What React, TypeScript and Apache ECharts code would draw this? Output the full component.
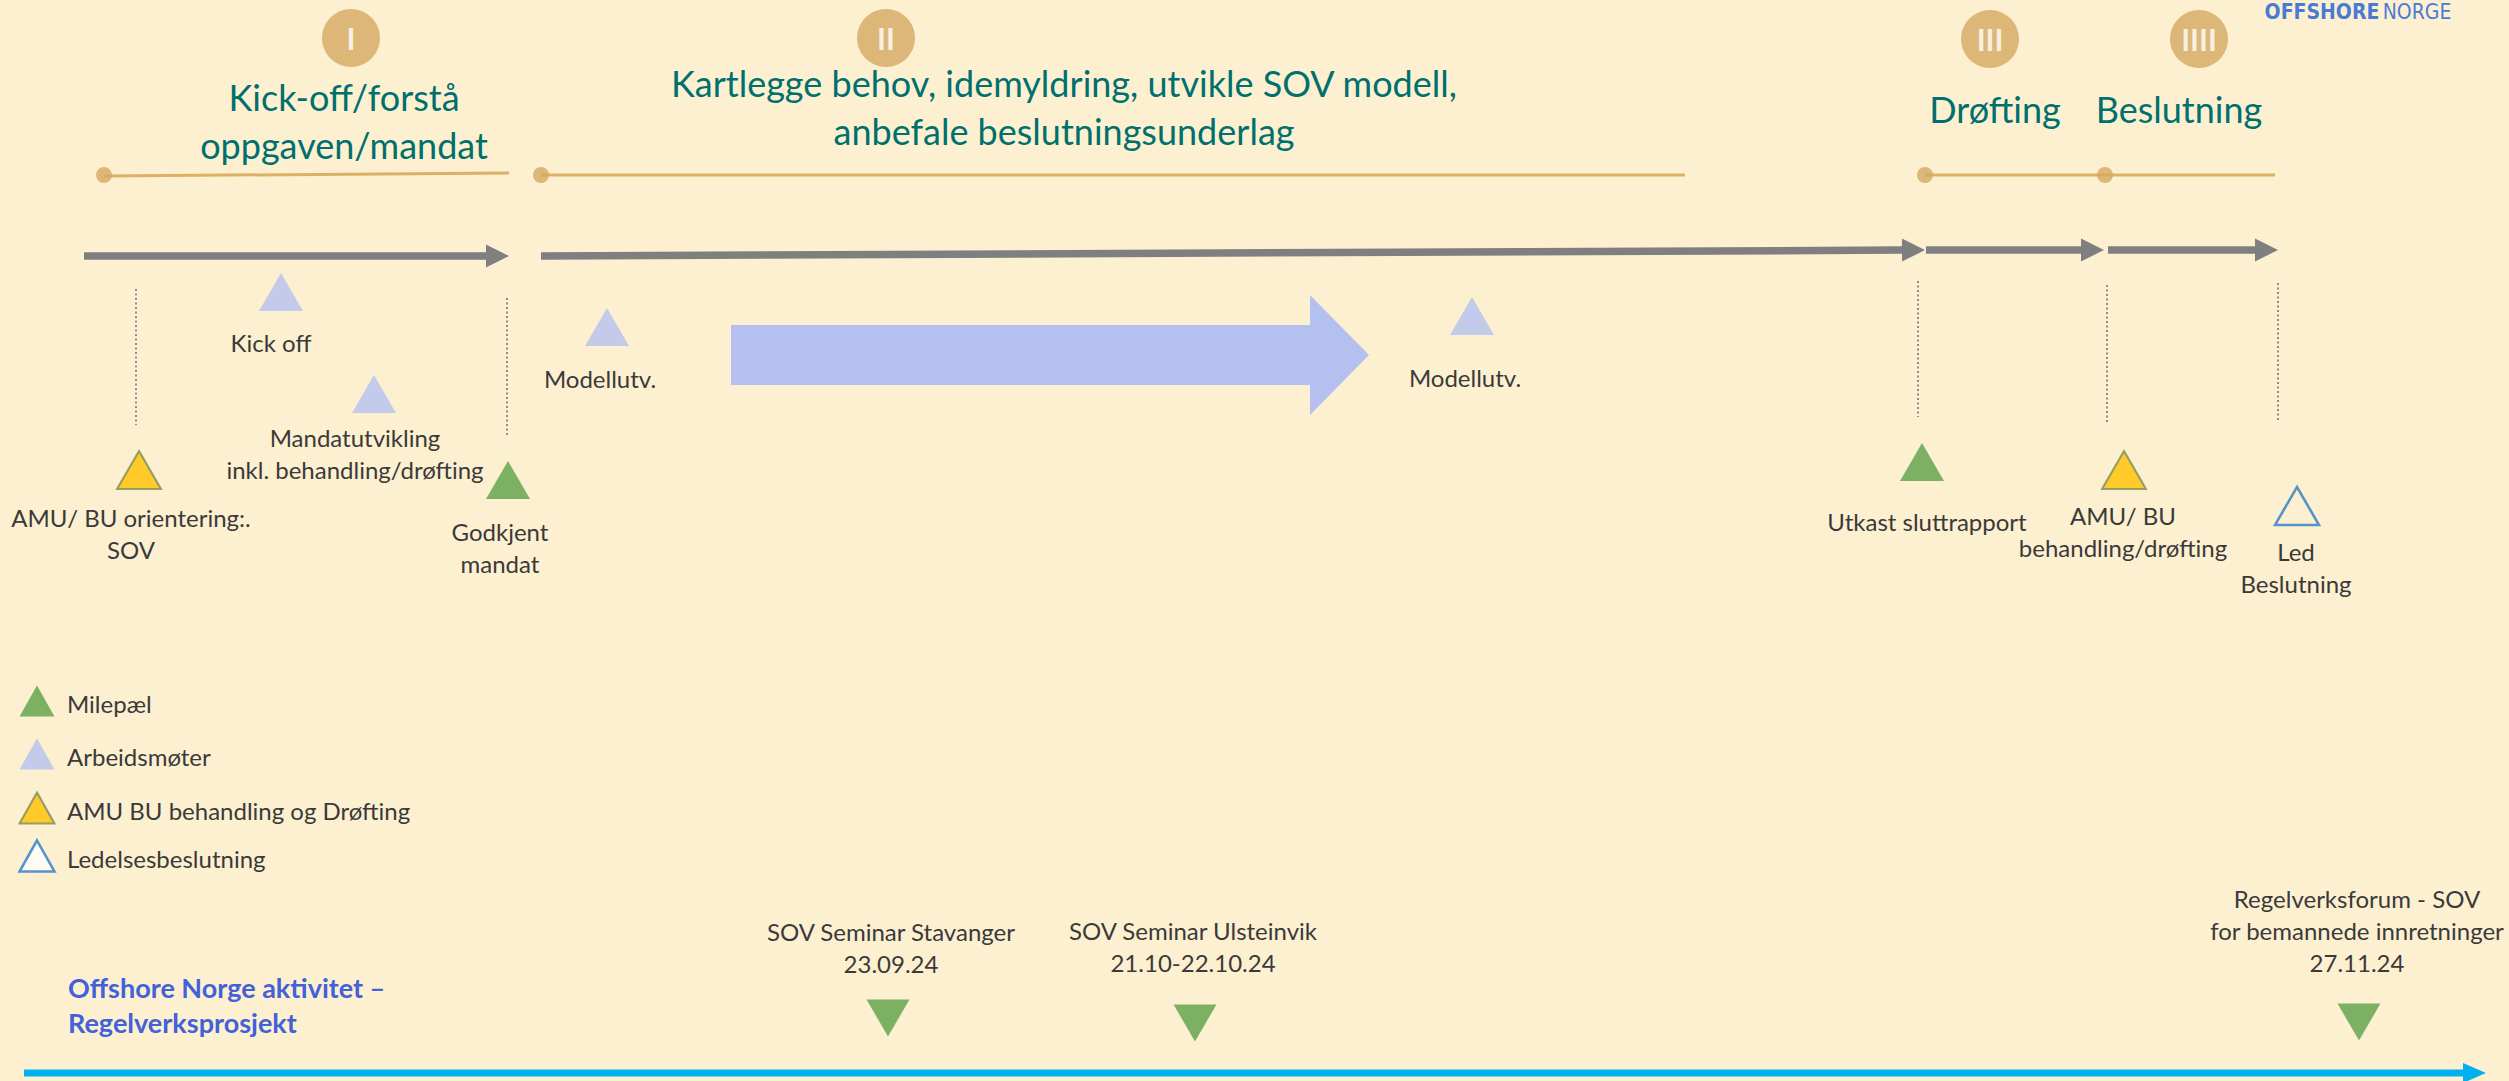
import React, { useEffect, useRef } from "react";
import * as echarts from "echarts";

const W = 2509;
const H = 1081;
const BG = "#FDF0D0";

// ---------- phases ----------
const phaseNumerals = ["I", "II", "III", "IIII"];
const phaseCenters = [[351, 38], [886, 38], [1990, 39], [2199, 39]];
const phaseTitles = [
  "Kick-off/forstå\noppgaven/mandat",
  "Kartlegge behov, idemyldring, utvikle SOV modell,\nanbefale beslutningsunderlag",
  "Drøfting",
  "Beslutning",
];
const phaseTitlePos = [[344, 121], [1064, 107], [1995, 109], [2179, 109]];
const phaseLines = [[104, 176, 509, 173], [541, 175, 1685, 175], [1925, 175, 2275, 175]];
const phaseDots = [[104, 175], [541, 175], [1925, 175], [2105, 175]];

// ---------- flow ----------
const flowArrows = [[84, 256, 509, 256], [541, 256, 1925, 250], [1926, 250, 2104, 250], [2108, 250, 2278, 250]];
const bigArrow = [[731, 355, 1369, 355]];
const dottedGuides = [[136, 289, 425], [507, 298, 435], [1918, 281, 417], [2107, 285, 423], [2278, 283, 420]];

// ---------- markers ----------
const markerKinds = ["work", "work", "amu", "milestone", "work", "work", "milestone", "amu", "led"];
const markerPos = [[281, 292], [374, 394], [139, 470], [508, 480], [607, 327], [1472, 316], [1922, 462], [2124, 470], [2297, 506]];
const markerLabels = [
  "Kick off",
  "Mandatutvikling\ninkl. behandling/drøfting",
  "AMU/ BU orientering:.\nSOV",
  "Godkjent\nmandat",
  "Modellutv.",
  "Modellutv.",
  "Utkast sluttrapport",
  "AMU/ BU\nbehandling/drøfting",
  "Led\nBeslutning",
];
const markerLabelPos = [[271, 342], [355, 453], [131, 533], [500, 547], [600, 378], [1465, 377], [1927, 521], [2123, 531], [2296, 567]];

// ---------- legend ----------
const legendKinds = ["milestone", "work", "amu", "led"];
const legendTexts = ["Milepæl", "Arbeidsmøter", "AMU BU behandling og Drøfting", "Ledelsesbeslutning"];
const legendRows = [701, 754, 808, 856];

// ---------- Offshore Norge activities ----------
const activityTitle = "Offshore Norge aktivitet –\nRegelverksprosjekt";
const activityTrack = [[24, 1073, 2486, 1073]];
const eventPos = [[888, 1018], [1195, 1023], [2359, 1022]];
const eventLabels = [
  "SOV Seminar Stavanger\n23.09.24",
  "SOV Seminar Ulsteinvik\n21.10-22.10.24",
  "Regelverksforum - SOV\nfor bemannede innretninger\n27.11.24",
];
const eventLabelPos = [[891, 947], [1193, 946], [2357, 930]];

const kindStyle: Record<string, any> = {
  milestone: { color: "#5BA148", borderColor: "#5BA148", borderWidth: 0 },
  work: { color: "#B4C1F0", borderColor: "#B4C1F0", borderWidth: 0 },
  amu: { color: "#FFC000", borderColor: "#7A8F5C", borderWidth: 2 },
  led: { color: "rgba(0,0,0,0)", borderColor: "#2A7CC7", borderWidth: 2.5 },
};
const legendKindStyle: Record<string, any> = {
  ...kindStyle,
  led: { color: "#FFFFFF", borderColor: "#2A7CC7", borderWidth: 2.5 },
};

const FONT = "Lato, 'Open Sans', sans-serif";

function textSeries(texts: string[], pos: number[][], style: any) {
  return {
    type: "custom",
    data: pos,
    silent: true,
    renderItem: (params: any, api: any) => {
      const p = api.coord([api.value(0), api.value(1)]);
      return {
        type: "text",
        x: p[0],
        y: p[1],
        style: {
          text: texts[params.dataIndex],
          fill: style.fill,
          fontSize: style.fontSize,
          fontFamily: style.fontFamily || FONT,
          fontWeight: style.fontWeight || "normal",
          align: style.align || "center",
          verticalAlign: "middle",
          lineHeight: style.lineHeight,
        },
      };
    },
  };
}

function arrowSeries(data: number[][], color: string, shaftHalf: number, headHalf: number, headLen: number) {
  return {
    type: "custom",
    data,
    silent: true,
    renderItem: (params: any, api: any) => {
      const a = api.coord([api.value(0), api.value(1)]);
      const b = api.coord([api.value(2), api.value(3)]);
      const dx = b[0] - a[0];
      const dy = b[1] - a[1];
      const len = Math.hypot(dx, dy);
      const ux = dx / len;
      const uy = dy / len;
      const nx = -uy;
      const ny = ux;
      const hb = [b[0] - ux * headLen, b[1] - uy * headLen];
      const pts = [
        [a[0] + nx * shaftHalf, a[1] + ny * shaftHalf],
        [hb[0] + nx * shaftHalf, hb[1] + ny * shaftHalf],
        [hb[0] + nx * headHalf, hb[1] + ny * headHalf],
        [b[0], b[1]],
        [hb[0] - nx * headHalf, hb[1] - ny * headHalf],
        [hb[0] - nx * shaftHalf, hb[1] - ny * shaftHalf],
        [a[0] - nx * shaftHalf, a[1] - ny * shaftHalf],
      ];
      return { type: "polygon", shape: { points: pts }, style: { fill: color } };
    },
  };
}

export default function App() {
  const ref = useRef<HTMLDivElement>(null);
  useEffect(() => {
    document.body.style.margin = "0";
    document.body.style.background = BG;
    const chart = echarts.init(ref.current!, null, { renderer: "svg" });
    const option: any = {
      animation: false,
      backgroundColor: BG,
      grid: { left: 0, right: 0, top: 0, bottom: 0 },
      xAxis: { type: "value", min: 0, max: W, show: false },
      yAxis: { type: "value", min: 0, max: H, inverse: true, show: false },
      series: [
        // tan phase lines
        {
          type: "custom",
          data: phaseLines,
          silent: true,
          renderItem: (params: any, api: any) => {
            const a = api.coord([api.value(0), api.value(1)]);
            const b = api.coord([api.value(2), api.value(3)]);
            return {
              type: "line",
              shape: { x1: a[0], y1: a[1], x2: b[0], y2: b[1] },
              style: { stroke: "#DDB065", lineWidth: 3 },
            };
          },
        },
        {
          type: "scatter",
          data: phaseDots,
          symbol: "circle",
          symbolSize: 16,
          itemStyle: { color: "#D4A962" },
          silent: true,
        },
        // phase circles
        {
          type: "scatter",
          data: phaseCenters,
          symbol: "circle",
          symbolSize: 58,
          itemStyle: { color: "#D4A962" },
          silent: true,
          label: {
            show: true,
            position: "inside",
            formatter: (p: any) => phaseNumerals[p.dataIndex],
            color: "#FFFFFF",
            fontSize: 30,
            fontFamily: FONT,
            fontWeight: "bold",
          },
        },
        textSeries(phaseTitles, phaseTitlePos, { fill: "#00706E", fontSize: 36, lineHeight: 48 }),
        // grey flow arrows
        arrowSeries(flowArrows, "#7F7F7F", 3.75, 11.5, 23),
        arrowSeries(bigArrow, "#B4C1F0", 30, 60, 59),
        // dotted guides
        {
          type: "custom",
          data: dottedGuides,
          silent: true,
          renderItem: (params: any, api: any) => {
            const a = api.coord([api.value(0), api.value(1)]);
            const b = api.coord([api.value(0), api.value(2)]);
            return {
              type: "line",
              shape: { x1: a[0], y1: a[1], x2: b[0], y2: b[1] },
              style: { stroke: "#8C8C8C", lineWidth: 2, lineDash: [2, 2.5] },
            };
          },
        },
        // markers
        {
          type: "scatter",
          symbol: "triangle",
          silent: true,
          data: markerPos.map((p, i) => ({
            value: p,
            symbolSize: [44, 38],
            itemStyle: kindStyle[markerKinds[i]],
          })),
        },
        textSeries(markerLabels, markerLabelPos, { fill: "#3A3A3A", fontSize: 24, lineHeight: 32 }),
        // legend
        {
          type: "scatter",
          symbol: "triangle",
          silent: true,
          data: legendRows.map((y, i) => ({
            value: [37, y],
            symbolSize: [35, 31],
            itemStyle: legendKindStyle[legendKinds[i]],
          })),
        },
        textSeries(legendTexts, legendRows.map((y) => [67, y + 2]), { fill: "#3A3A3A", fontSize: 24, align: "left" }),
        // Offshore Norge activities
        textSeries([activityTitle], [[68, 1005]], { fill: "#4361D8", fontSize: 27, fontWeight: "bold", align: "left", lineHeight: 35 }),
        arrowSeries(activityTrack, "#00B0F0", 3.5, 10, 23),
        {
          type: "scatter",
          symbol: "triangle",
          symbolRotate: 180,
          silent: true,
          symbolSize: [43, 37],
          itemStyle: { color: "#5BA148" },
          data: eventPos,
        },
        textSeries(eventLabels, eventLabelPos, { fill: "#3A3A3A", fontSize: 24, lineHeight: 32 }),
        // brand
        {
          type: "custom",
          data: [[2358, 12]],
          silent: true,
          renderItem: (params: any, api: any) => {
            const p = api.coord([api.value(0), api.value(1)]);
            return {
              type: "text",
              x: p[0],
              y: p[1],
              style: {
                text: "{b|OFFSHORE} {n|NORGE}",
                align: "center",
                verticalAlign: "middle",
                rich: {
                  b: { fontSize: 21, fontWeight: "bold", fontFamily: "'DejaVu Sans Condensed', 'DejaVu Sans'", fill: "#4A7BD4" },
                  n: { fontSize: 21, fontWeight: "normal", fontFamily: "'DejaVu Sans Condensed', 'DejaVu Sans'", fill: "#4A7BD4" },
                },
              },
            };
          },
        },
      ],
    };
    chart.setOption(option);
    return () => chart.dispose();
  }, []);
  return <div ref={ref} style={{ width: W, height: H, background: BG }} />;
}
